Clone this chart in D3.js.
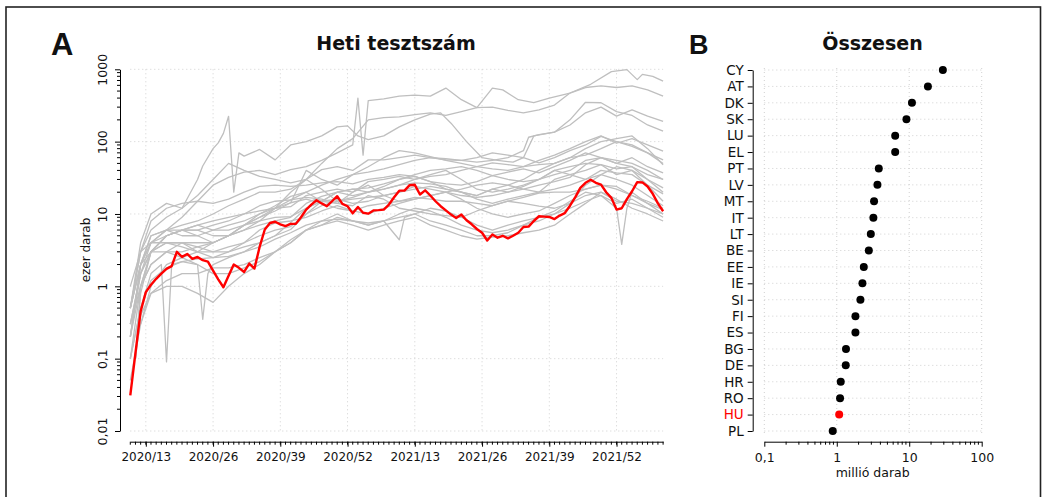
<!DOCTYPE html>
<html><head><meta charset="utf-8">
<script src="https://cdn.jsdelivr.net/npm/d3@7"></script>
<style>
body{margin:0;background:#fff}
text{font-family:"DejaVu Sans",Verdana,sans-serif;fill:#111}
</style>
</head><body>
<svg id="c" width="1042" height="497"></svg>
<script>
// ---------- DATA ----------
const weekTicks = [3,16,29,42,55,68,81,94];
const weekTickLabels = ["2020/13","2020/26","2020/39","2020/52","2021/13","2021/26","2021/39","2021/52"];
const lastWeek = 103;
const yTickValues = [0.01,0.1,1,10,100,1000];
const yTickLabels = ["0,01","0,1","1","10","100","1000"];

// Hungary weekly tests (thousand), weeks 0..103 (week 0 = 2020/10)
const HU = [0.031,0.12,0.45,0.83,1.05,1.27,1.5,1.74,1.9,3.0,
2.55,2.8,2.4,2.55,2.3,2.2,1.65,1.25,0.97,1.4,
2.0,1.8,1.58,2.06,1.76,3.5,6.1,7.5,7.8,7.2,
6.8,7.3,7.3,9,11.5,13.5,15.5,14,12.8,15,
17.6,13.8,12.8,10.2,12.5,10.4,10.1,11.2,11.3,11.5,
13.5,17,21,21,25,25.3,18.6,21.2,18,15,
12.8,11.2,9.8,8.8,9.8,8.2,7.2,6.2,5.5,4.3,
5.2,4.7,5.0,4.6,5.0,5.5,6.6,6.7,8.0,9.3,
9.2,9.1,8.5,9.5,10.3,13,17,23,27,29.8,
27,25.5,20,16.7,11.5,12,16,20.6,27.6,27.3,
24,19,14,10.9];

// Other countries: [week, value] readings
const CY = [[0,0.3],[2,1.5],[4,4],[7,6],[10,9],[13,15],[16,25],[19,32],[22,38],[25,40],[28,35],[31,41],[34,45],[37,55],[40,70],[43,90],[44,400],[45,65],[46,370],[49,390],[52,425],[55,440],[58,425],[61,550],[64,380],[67,295],[70,550],[72,520],[75,380],[78,345],[81,400],[85,470],[89,620],[93,930],[96,990],[98,720],[99,850],[101,800],[103,685]];
const AT = [[0,0.2],[2,2],[4,5],[7,6],[10,7],[13,8],[16,10],[19,13],[22,16],[25,20],[28,20],[31,22],[34,30],[37,50],[40,80],[43,110],[46,200],[49,215],[52,220],[55,237],[58,250],[61,230],[64,260],[67,295],[70,300],[73,270],[76,250],[79,275],[82,320],[85,470],[88,560],[91,590],[94,560],[97,590],[100,520],[103,425]];
const DK = [[0,0.5],[2,3],[4,6],[7,9],[10,12],[13,30],[14,46],[16,80],[17,96],[18,130],[19,224],[20,20],[21,70],[22,63],[25,78],[28,56],[31,90],[34,100],[37,120],[40,160],[42,165],[44,120],[46,107],[49,120],[52,160],[55,200],[58,240],[60,250],[62,180],[65,100],[68,60],[71,55],[74,52],[76,60],[78,120],[82,135],[85,200],[88,350],[91,345],[94,260],[97,230],[100,170],[103,140]];
const SK = [[1,0.1],[2,0.8],[4,3],[7,5],[10,6],[13,7],[16,6],[19,7],[22,8],[25,10],[28,12],[31,14.3],[34,40],[37,30],[40,25],[43,35],[46,45],[49,60],[52,75],[55,70],[58,62],[61,55],[64,50],[67,45],[70,42],[73,40],[76,45],[79,55],[82,65],[85,80],[88,100],[91,120],[94,95],[97,110],[100,90],[103,74]];
const LU = [[0,0.5],[2,4],[4,10],[7,14],[10,12],[13,18],[16,30],[19,50],[22,40],[25,33],[28,30],[31,27],[34,30],[37,41],[40,45],[43,40],[46,56],[49,56],[52,60],[55,65],[58,60],[61,56],[64,55],[67,60],[70,70],[73,65],[76,60],[79,51],[82,60],[85,75],[88,90],[91,118],[94,100],[97,86],[100,70],[103,56]];
const EL = [[2,0.3],[4,1],[7,2],[10,2.5],[13,3],[16,4],[19,5],[22,7],[25,9],[28,12],[31,15.7],[34,20],[37,25],[40,30],[43,35],[46,38],[49,42],[52,48],[55,55],[58,60],[61,58],[64,55],[67,52],[70,55],[73,60],[76,75],[77,115],[79,125],[82,135],[85,170],[88,250],[91,300],[94,225],[97,275],[100,225],[103,190]];
const PT = [[1,0.1],[2,1],[4,3],[7,5],[10,6],[13,7],[16,8],[19,9],[22,10],[25,11],[28,12],[31,12.6],[34,18],[37,20],[40,22],[43,20],[46,28],[49,30],[52,33],[55,30],[58,33],[61,35],[64,40],[67,45],[70,51],[73,48],[76,45],[79,48],[82,50],[85,60],[88,80],[91,100],[94,110],[97,120],[100,80],[103,48]];
const LV = [[0,0.2],[2,2],[4,5],[7,6],[10,5],[13,5],[16,6],[19,6],[22,7],[25,8],[28,9],[31,9.2],[34,12],[37,15],[40,20],[43,22],[46,23],[49,26],[52,30],[55,35],[58,40],[61,42],[64,45],[67,40],[70,34],[73,38],[76,42],[79,37],[82,45],[85,55],[88,70],[91,60],[94,50],[97,60],[100,45],[103,37]];
const MT = [[0,0.5],[2,3],[4,8],[7,12],[10,14],[13,15],[16,14],[19,16],[22,20],[25,24],[28,25],[31,24],[34,25],[37,27],[40,28],[43,26],[46,30],[49,32],[52,35],[55,33],[58,28],[61,26],[64,25],[67,28],[70,34],[73,30],[76,28],[79,30],[82,35],[85,40],[88,55],[91,60],[94,50],[97,45],[100,35],[103,30]];
const IT = [[0,0.5],[2,2],[4,3],[7,4],[10,4],[13,3.5],[16,3],[19,3],[22,3.5],[25,4],[28,5],[31,7.6],[34,12],[37,15],[40,16],[43,14],[46,15],[49,18],[52,20],[55,22],[58,24],[61,22],[64,20],[67,18],[70,22],[73,25],[76,30],[79,40],[82,50],[85,60],[88,65],[91,80],[94,100],[97,90],[100,70],[103,50]];
const LT = [[0,0.1],[2,1],[4,3],[7,5],[10,6],[13,6],[16,5],[19,5],[22,6],[25,7],[28,8],[31,9],[34,14],[37,17.5],[40,20],[43,22],[46,20],[49,22],[52,25],[55,30],[58,35],[61,40],[64,30],[67,22],[70,20],[73,22],[76,25],[79,30],[82,40],[85,45],[88,50],[91,48],[94,35],[97,40],[100,30],[103,23]];
const BE = [[0,0.3],[2,1],[4,2],[7,3],[10,4],[13,4],[16,4],[19,5],[22,6],[25,8],[28,12],[31,20],[34,30],[37,22],[40,15],[43,16],[46,17],[49,18],[52,20],[55,24],[58,22],[61,20],[64,18],[67,17],[70,18],[73,20],[76,22],[79,25],[82,28],[85,32],[88,48],[91,60],[94,55],[97,50],[100,40],[103,30]];
const EE = [[0,0.2],[2,1.5],[4,3],[7,4],[10,4],[13,3],[16,2.5],[19,3],[22,4],[25,5],[28,6],[31,6.7],[34,10],[37,13],[40,15],[43,17],[46,20],[49,24],[52,30],[55,33],[58,28],[61,22],[64,20],[67,16],[70,14],[73,16],[76,18],[79,20],[82,30],[85,35],[88,40],[91,48],[94,42],[97,45],[100,30],[103,20]];
const IE = [[0,0.5],[2,2],[4,4],[7,6],[10,6],[13,5],[16,4],[19,5],[22,7],[25,10],[28,13],[31,17.5],[34,20],[37,15],[40,14],[43,20],[46,25],[49,18],[52,15],[55,16],[58,18],[61,20],[64,22],[67,25],[70,27],[73,25],[76,22],[79,20],[82,22],[85,25],[88,30],[91,35],[94,45],[97,40],[100,25],[103,15]];
const SI = [[0,0.3],[2,1.5],[4,3],[7,3],[10,2.5],[13,2],[14,0.35],[15,1.5],[16,2],[19,2.5],[22,3],[25,4],[28,5],[31,6.1],[34,10],[37,15],[40,20],[43,18],[46,20],[49,22],[52,25],[55,27],[58,26],[61,24],[64,20],[67,18],[70,22],[73,20],[76,24],[79,30],[82,40],[85,35],[88,30],[91,40],[94,37],[97,35],[100,25],[103,19]];
const FI = [[0,0.2],[2,1],[4,2],[7,3],[10,3],[13,3.5],[16,4],[19,5],[22,7],[25,9],[28,11],[31,14.3],[34,16],[37,14],[40,12],[43,11],[46,13],[49,14],[52,15],[55,17],[58,16],[61,15],[64,15],[67,14],[70,13],[73,15],[76,17],[79,19.5],[82,20],[85,20],[88,22],[91,25],[94,24],[97,18],[100,14],[103,11.5]];
const ES = [[0,0.5],[2,2],[4,4],[7,5],[10,6],[13,6],[16,7],[19,8],[22,10],[25,13],[28,15],[31,15.7],[34,17],[37,16],[40,14],[43,13],[46,18],[49,16],[52,12],[55,11],[58,10],[61,9.5],[64,9],[67,11],[70,13],[73,15],[76,14],[79,12.8],[82,12],[85,14],[88,25],[91,35],[94,30],[97,25],[100,18],[103,13]];
const BG = [[0,0.05],[2,0.3],[4,0.8],[7,1.2],[10,1.5],[13,1.5],[16,1.8],[19,1.8],[22,2],[25,2.5],[28,3],[31,4.4],[34,6],[37,8],[40,10],[43,8],[46,7],[49,8],[52,10],[55,12],[58,11],[61,9],[64,7],[67,6],[70,5.5],[73,6],[76,7],[79,8],[82,10],[85,12],[88,15],[91,18],[94,14],[97,16],[100,12],[103,9]];
const DE = [[0,1],[2,3],[4,4],[7,4],[10,3.5],[13,3],[16,3],[19,3.5],[22,4],[25,6],[28,7.5],[31,8],[34,9],[37,11],[40,13],[43,11],[46,10],[49,12],[52,14],[55,16],[58,18],[61,20],[64,16],[67,12],[70,10],[73,9],[76,10],[79,11],[82,14],[85,18],[88,22],[91,25],[94,22],[97,18],[100,15],[103,12]];
const HR = [[1,0.1],[2,0.4],[4,0.8],[7,1],[10,1],[13,0.8],[16,0.6],[19,1],[22,1.5],[25,2],[28,3],[31,4],[34,6],[37,7],[40,9],[43,8],[46,7],[49,8],[52,4.4],[53,9],[55,10],[58,12],[61,11],[64,9],[67,7],[70,6],[73,7],[76,8],[79,9],[82,10],[85,14],[88,18],[91,20],[94,15],[97,14],[100,12],[103,10]];
const RO = [[0,0.1],[2,0.5],[4,1.2],[7,1.8],[10,2.2],[13,2.4],[16,2.5],[19,2.6],[22,3],[25,3.5],[28,4.5],[31,5.5],[34,7],[37,8],[40,8.5],[43,8],[46,7.5],[49,8],[52,9],[55,10],[58,8],[61,7],[64,6],[67,5],[70,5],[73,5.5],[76,7],[79,9],[82,11],[85,15],[88,20],[91,18],[94,12],[95,3.8],[96,12],[97,20],[100,14],[103,10]];
const PL = [[0,0.1],[2,0.5],[4,1.5],[6,2],[7,0.09],[8,2],[10,2.2],[13,2],[16,1.5],[19,1.5],[22,1.8],[25,2.2],[28,3],[31,4],[34,6],[37,7],[40,8],[43,7],[46,6],[49,7],[52,8],[55,9],[58,7],[61,6],[64,5],[67,4.5],[70,4.8],[73,5],[76,5.5],[79,6],[82,7],[85,10],[88,14],[91,20],[94,16],[97,12],[100,10],[103,8]];
const greySeries = [CY,AT,DK,SK,LU,EL,PT,LV,MT,IT,LT,BE,EE,IE,SI,FI,ES,BG,DE,HR,RO,PL];

// Panel B: total tests (million)
const countries = ["CY","AT","DK","SK","LU","EL","PT","LV","MT","IT","LT","BE","EE","IE","SI","FI","ES","BG","DE","HR","RO","HU","PL"];
const totals = [29.1,18.1,10.9,9.15,6.4,6.4,3.8,3.64,3.27,3.2,2.95,2.77,2.36,2.26,2.12,1.81,1.81,1.34,1.33,1.135,1.11,1.08,0.88];
const totalTickValues = [0.1,1,10,100];
const totalTickLabels = ["0,1","1","10","100"];

// ---------- DRAW ----------
const svg = d3.select("#c");
const RED = "#ff0000", GREY = "#bfbfbf", GRID = "#d0d0d0";

svg.append("rect").attr("x",6).attr("y",7).attr("width",1034.5).attr("height",530)
  .attr("fill","none").attr("stroke","#222").attr("stroke-width",1.6);

// Panel A
const x = d3.scaleLinear().domain([0,lastWeek]).range([130.3,663.1]);
const y = d3.scaleLog().domain([0.01,1000]).range([431,69.3]);
const gA = svg.append("g");

gA.selectAll(".gv").data(weekTicks).join("line")
  .attr("x1",d=>x(d)).attr("x2",d=>x(d)).attr("y1",y(1000)).attr("y2",y(0.01))
  .attr("stroke",GRID).attr("stroke-dasharray","1,3");
gA.selectAll(".gh").data(yTickValues).join("line")
  .attr("x1",x(0)).attr("x2",x(lastWeek)).attr("y1",d=>y(d)).attr("y2",d=>y(d))
  .attr("stroke",GRID).attr("stroke-dasharray","1,3");

const yAx = gA.append("g").attr("transform","translate(120,0)")
  .call(d3.axisLeft(y).tickValues(yTickValues).tickFormat((d,i)=>yTickLabels[i]).tickSize(5).tickSizeOuter(0));
yAx.selectAll("text").attr("x",null).attr("dy",null).attr("text-anchor","middle")
  .attr("transform","translate(-13,0) rotate(-90)").style("font-size","12.5px");
const yMinor = [];
for (let e=-2;e<3;e++) for (let m=2;m<10;m++) yMinor.push(m*Math.pow(10,e));
yAx.selectAll(".mn").data(yMinor).join("line").attr("x1",0).attr("x2",-3)
  .attr("y1",d=>y(d)).attr("y2",d=>y(d)).attr("stroke","#000");
gA.append("text").attr("transform","translate(90,250) rotate(-90)").attr("text-anchor","middle")
  .style("font-size","12px").text("ezer darab");

const xAx = gA.append("g").attr("transform","translate(0,441.7)")
  .call(d3.axisBottom(x).tickValues(weekTicks).tickFormat((d,i)=>weekTickLabels[i]).tickSize(5).tickSizeOuter(0).tickPadding(6));
xAx.selectAll("text").style("font-size","12px");
xAx.selectAll(".mn").data(d3.range(0,lastWeek+1)).join("line").attr("y1",0).attr("y2",3)
  .attr("x1",d=>x(d)).attr("x2",d=>x(d)).attr("stroke","#000");

const line = d3.line().x(d=>x(d[0])).y(d=>y(d[1]));
gA.selectAll(".grey").data(greySeries).join("path").attr("d",line)
  .attr("fill","none").attr("stroke",GREY).attr("stroke-width",1.3).attr("stroke-linejoin","round");
gA.append("path").datum(HU.map((v,i)=>[i,v])).attr("d",line)
  .attr("fill","none").attr("stroke",RED).attr("stroke-width",2.4).attr("stroke-linejoin","round");

gA.append("text").attr("x",396).attr("y",50).attr("text-anchor","middle")
  .style("font-size","19px").style("font-weight","bold").text("Heti tesztszám");
svg.append("text").attr("x",51).attr("y",55)
  .style("font-family","'Liberation Sans',Arial,sans-serif").style("font-size","31px").style("font-weight","900").text("A");

// Panel B
const xb = d3.scaleLog().domain([0.1,100]).range([764.3,981.7]);
const yb = d3.scalePoint().domain(countries).range([70,431]);
const gB = svg.append("g");
gB.selectAll(".gh").data(countries).join("line")
  .attr("x1",xb(0.1)).attr("x2",xb(100)).attr("y1",d=>yb(d)).attr("y2",d=>yb(d))
  .attr("stroke",GRID).attr("stroke-dasharray","1,3");
gB.selectAll(".gv").data(totalTickValues).join("line")
  .attr("x1",d=>xb(d)).attr("x2",d=>xb(d)).attr("y1",68).attr("y2",433)
  .attr("stroke",GRID).attr("stroke-dasharray","1,3");

const ybAx = gB.append("g").attr("transform","translate(752.7,0)")
  .call(d3.axisLeft(yb).tickSize(5).tickSizeOuter(0).tickPadding(4));
ybAx.selectAll("text").style("font-size","13.5px").style("fill",d=>d==="HU"?RED:"#111");

const xbAx = gB.append("g").attr("transform","translate(0,441.7)")
  .call(d3.axisBottom(xb).tickValues(totalTickValues).tickFormat((d,i)=>totalTickLabels[i]).tickSize(5).tickSizeOuter(0).tickPadding(6));
xbAx.selectAll("text").style("font-size","12.5px");
const xbMinor = [];
for (let e=-1;e<2;e++) for (let m=2;m<10;m++) xbMinor.push(m*Math.pow(10,e));
xbAx.selectAll(".mn").data(xbMinor).join("line").attr("y1",0).attr("y2",3)
  .attr("x1",d=>xb(d)).attr("x2",d=>xb(d)).attr("stroke","#000");
gB.append("text").attr("x",872.7).attr("y",477).attr("text-anchor","middle")
  .style("font-size","12.5px").text("millió darab");

gB.selectAll(".dot").data(countries).join("circle")
  .attr("cx",(d,i)=>xb(totals[i])).attr("cy",d=>yb(d)).attr("r",4)
  .attr("fill",d=>d==="HU"?RED:"#000");

gB.append("text").attr("x",872.5).attr("y",50).attr("text-anchor","middle")
  .style("font-size","19px").style("font-weight","bold").text("Összesen");
svg.append("text").attr("x",689).attr("y",54)
  .style("font-family","'Liberation Sans',Arial,sans-serif").style("font-size","27px").style("font-weight","900").text("B");
</script>
</body></html>
